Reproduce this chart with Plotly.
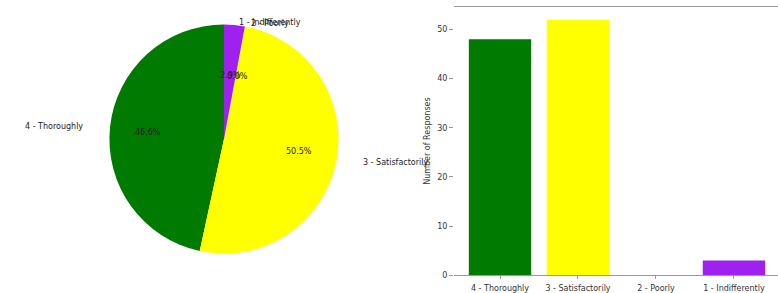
import math
import plotly.graph_objects as go

categories = ["4 - Thoroughly", "3 - Satisfactorily", "2 - Poorly", "1 - Indifferently"]
responses = [48, 52, 0, 3]
colors = ["#007a00", "#ffff00", "#ff0000", "#a020f0"]
y_ticks = [0, 10, 20, 30, 40, 50]

W, H = 778, 293
FONT = "DejaVu Sans"

fig = go.Figure()

total = sum(responses)
# plotly's counterclockwise pies place the first slice clockwise of 12 o'clock;
# rotate so the first slice starts at 12 o'clock and runs counterclockwise.
first_span = 360.0 * responses[0] / total

# Pie geometry (pixels)
cx, cy, r = 224, 142, 117
fig.add_trace(go.Pie(
    labels=categories, values=responses, sort=False,
    direction="counterclockwise", rotation=-first_span,
    marker=dict(colors=colors, line=dict(width=0)),
    textinfo="none", hoverinfo="label+percent", showlegend=False,
    domain=dict(x=[(cx - r) / W, (cx + r) / W], y=[1 - (cy + r) / H, 1 - (cy - r) / H]),
))

# Labels and percentages, placed from the data angles (matplotlib-style)
start = 90.0
rx, ry = 127, 109
for cat, v in zip(categories, responses):
    span = 360.0 * v / total
    mid = math.radians(start + span / 2)
    start += span
    c, s = math.cos(mid), math.sin(mid)
    fig.add_annotation(
        x=(cx + 1.1 * rx * c) / W, y=1 - (cy - 1.1 * ry * s) / H,
        xref="paper", yref="paper", text=cat, showarrow=False,
        xanchor="left" if c > 0 else "right", yanchor="middle",
        font=dict(family=FONT, size=8, color="#222"),
    )
    fig.add_annotation(
        x=(cx + 0.6 * rx * c) / W, y=1 - (cy - 0.6 * ry * s) / H,
        xref="paper", yref="paper", text=f"{100 * v / total:.1f}%", showarrow=False,
        xanchor="center", yanchor="middle",
        font=dict(family=FONT, size=8, color="#222"),
    )

# Bar chart
fig.add_trace(go.Bar(
    x=list(range(len(categories))), y=responses, width=0.8,
    marker=dict(color=colors, line=dict(width=0)),
    xaxis="x", yaxis="y", showlegend=False,
))

fig.update_layout(
    width=W, height=H,
    margin=dict(l=0, r=0, t=0, b=0),
    paper_bgcolor="white", plot_bgcolor="white",
    font=dict(family=FONT, size=8, color="#333"),
    xaxis=dict(
        domain=[454 / W, 1.0], range=[-0.59, 3.565],
        tickmode="array", tickvals=list(range(len(categories))), ticktext=categories,
        showline=True, linecolor="#999", linewidth=1, mirror=True,
        ticks="outside", ticklen=3, tickcolor="#999", ticklabelstandoff=2,
        showgrid=False, zeroline=False,
        tickfont=dict(family=FONT, size=8, color="#333"),
    ),
    yaxis=dict(
        domain=[1 - 281 / H, 1 - 7 / H], range=[0, 54.6],
        tickmode="array", tickvals=y_ticks,
        showline=False, showgrid=False, zeroline=False,
        ticks="outside", ticklen=4, tickcolor="#999",
        tickfont=dict(family=FONT, size=8, color="#333"),
        title=dict(text="Number of Responses", font=dict(family=FONT, size=8, color="#333"), standoff=5),
    ),
)

fig.write_html(
    "out.html",
    config={"displayModeBar": False},
    post_script="document.body.style.margin='0';document.body.style.overflow='hidden';",
)
